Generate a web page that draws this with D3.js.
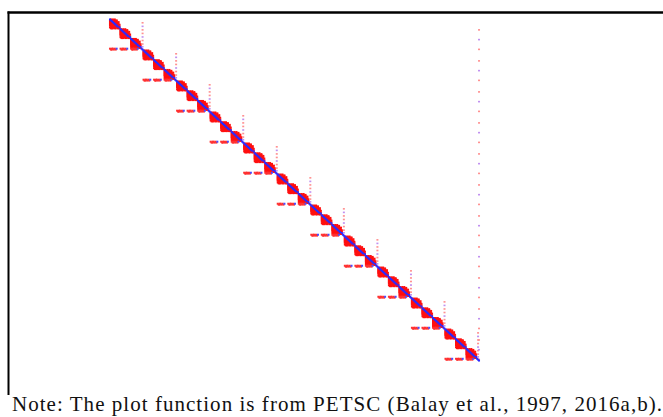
<!DOCTYPE html>
<html>
<head>
  <meta charset="UTF-8">
  <style>
    body { margin: 0; background: #fff; }
  </style>
</head>
<body>
<script src="https://d3js.org/d3.v7.min.js"></script>
<div id="my_dataviz"></div>
<script>

// matrix structure: 11 groups of 3 diagonal blocks + 2 coupling rows, 1 global column
var blockSize = 11;
var blocksPerGroup = 3;
var nGroups = 11;
var couplingRows = 2;

// nonzero pattern of one diagonal block ('+' positive, '-' negative, '.' zero)
var blockPattern = [
  "-+.+.+.....",
  "+-++++.+...",
  "++-++.++...",
  "+++-++++.+.",
  "++++-+.++..",
  "+.+++-++++.",
  "+++.++-++.+",
  "++++.++-++.",
  ".+++++.+-++",
  "++.++++.++-",
  ".+++.++.+++"
];

// coupling rows at the bottom of each group, columns within each block
var couplingRowPattern = [
  "+.++.+.-...",
  ".++.+.+...."
];

// coupling column (last column of a group): rows within the group and signs
var couplingColRows  = [4, 8, 12, 16, 20, 24, 28, 31];
var couplingColSigns = ["+", "-", "+", "+", "-", "+", "+", "-"];

// global last column: rows within each group
var globalColRows  = [12, 23, 34];
var globalColSigns = ["+", "-", "+"];

var groupSize = blockSize * blocksPerGroup + couplingRows;
var N = groupSize * nGroups + 1;

var entries = [];
for (var g = 0; g < nGroups; g++) {
  var g0 = g * groupSize;
  for (var b = 0; b < blocksPerGroup; b++) {
    var b0 = g0 + b * blockSize;
    blockPattern.forEach(function(row, i) {
      row.split("").forEach(function(ch, j) {
        if (ch != ".") entries.push({r: b0 + i, c: b0 + j, s: ch});
      });
    });
    couplingRowPattern.forEach(function(row, k) {
      row.split("").forEach(function(ch, j) {
        if (ch != ".") entries.push({r: g0 + blockSize * blocksPerGroup + k, c: b0 + j, s: ch, row: true});
      });
    });
  }
  couplingColRows.forEach(function(r, k) {
    entries.push({r: g0 + r, c: g0 + groupSize - 1, s: couplingColSigns[k], light: true});
  });
  globalColRows.forEach(function(r, k) {
    entries.push({r: g0 + r, c: N - 1, s: globalColSigns[k], light: true});
  });
  for (var k = 0; k < couplingRows; k++) {
    var d = g0 + blockSize * blocksPerGroup + k;
    entries.push({r: d, c: d, s: "-"});
  }
}
entries.push({r: N - 1, c: N - 1, s: "-"});

var width = 663, height = 417;

var svg = d3.select("#my_dataviz")
  .append("svg")
    .attr("width", width)
    .attr("height", height);

var x = d3.scaleLinear().domain([0, N]).range([109.5, 479.5]);
var y = d3.scaleLinear().domain([0, N]).range([19, 361]);

// red first, blue on top
entries.sort(function(a, b) { return (a.s == "-") - (b.s == "-"); });

svg.append("g")
  .selectAll("rect")
  .data(entries)
  .enter()
  .append("rect")
    .attr("x", function(d) { return x(d.c + 0.5) - 1; })
    .attr("y", function(d) { return y(d.r + 0.5) - 1; })
    .attr("width", 2)
    .attr("height", function(d) { return d.light ? 1.6 : 2; })
    .style("fill", function(d) {
      if (d.light) return d.s == "-" ? "#c090f0" : "#ff9090";
      if (d.row) return d.s == "-" ? "#4a4aff" : "#ff3030";
      return d.s == "-" ? "#2a2aff" : "#ff1010";
    });

// frame
svg.append("line")
  .attr("x1", 7.5).attr("x2", 663)
  .attr("y1", 12.5).attr("y2", 12.5)
  .style("stroke", "#000")
  .style("stroke-width", 2.5);
svg.append("line")
  .attr("x1", 8.5).attr("x2", 8.5)
  .attr("y1", 11.5).attr("y2", 395)
  .style("stroke", "#000")
  .style("stroke-width", 2);

svg.append("text")
  .attr("x", 12)
  .attr("y", 411)
  .attr("textLength", 650)
  .attr("lengthAdjust", "spacing")
  .style("font-family", "'Liberation Serif', 'DejaVu Serif', serif")
  .style("font-size", "21px")
  .style("fill", "#111")
  .text("Note: The plot function is from PETSC (Balay et al., 1997, 2016a,b).");

</script>
</body>
</html>
